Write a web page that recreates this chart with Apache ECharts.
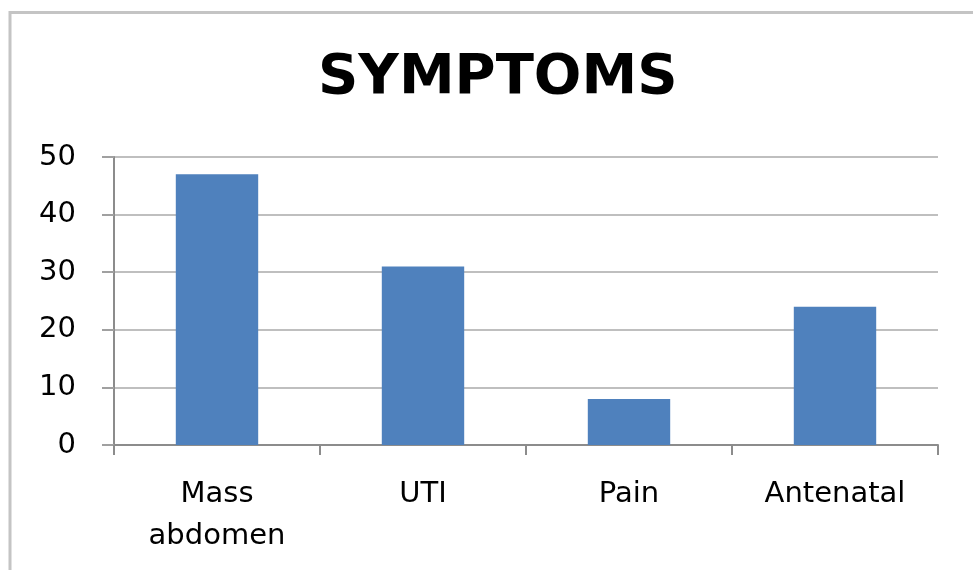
<!DOCTYPE html>
<html>
<head>
<meta charset="utf-8">
<script src="https://cdn.jsdelivr.net/npm/echarts@6/dist/echarts.min.js"></script>
<style>
html,body{margin:0;padding:0;background:#fff;}
#chart{width:973px;height:570px;}
</style>
</head>
<body>
<div id="chart"></div>
<script>
const categories = ['Mass\nabdomen', 'UTI', 'Pain', 'Antenatal'];
const values = [47, 31, 8, 24];
const yTicks = [0, 10, 20, 30, 40, 50];

const chart = echarts.init(document.getElementById('chart'));
chart.setOption({
  animation: false,
  backgroundColor: '#fff',
  graphic: [{
    type: 'rect',
    shape: { x: 10, y: 12.5, width: 1000, height: 600 },
    style: { fill: 'none', stroke: '#c4c4c4', lineWidth: 3 },
    silent: true
  }],
  title: {
    text: 'SYMPTOMS',
    left: 318,
    top: 50,
    padding: 0,
    textStyle: { fontFamily: 'DejaVu Sans', fontWeight: 'bold', fontSize: 56, color: '#000' }
  },
  grid: { left: 114, right: 35, top: 157, bottom: 125, containLabel: false },
  xAxis: {
    type: 'category',
    data: categories,
    axisLine: { lineStyle: { color: '#8c8c8c', width: 2 } },
    axisTick: { show: true, length: 10, lineStyle: { color: '#8c8c8c', width: 2 } },
    axisLabel: {
      margin: 28,
      fontFamily: 'DejaVu Sans',
      fontSize: 29,
      lineHeight: 42,
      color: '#000'
    }
  },
  yAxis: {
    type: 'value',
    min: yTicks[0],
    max: yTicks[yTicks.length - 1],
    interval: 10,
    axisLine: { show: true, lineStyle: { color: '#8c8c8c', width: 2 } },
    axisTick: { show: true, length: 12, lineStyle: { color: '#a0a0a0', width: 2 } },
    splitLine: { lineStyle: { color: '#bfbfbf', width: 2 } },
    axisLabel: {
      margin: 38,
      fontFamily: 'DejaVu Sans',
      fontSize: 29,
      color: '#000'
    }
  },
  series: [{
    type: 'bar',
    data: values,
    barWidth: '40%',
    itemStyle: { color: '#4f81bd' }
  }]
});
</script>
</body>
</html>
